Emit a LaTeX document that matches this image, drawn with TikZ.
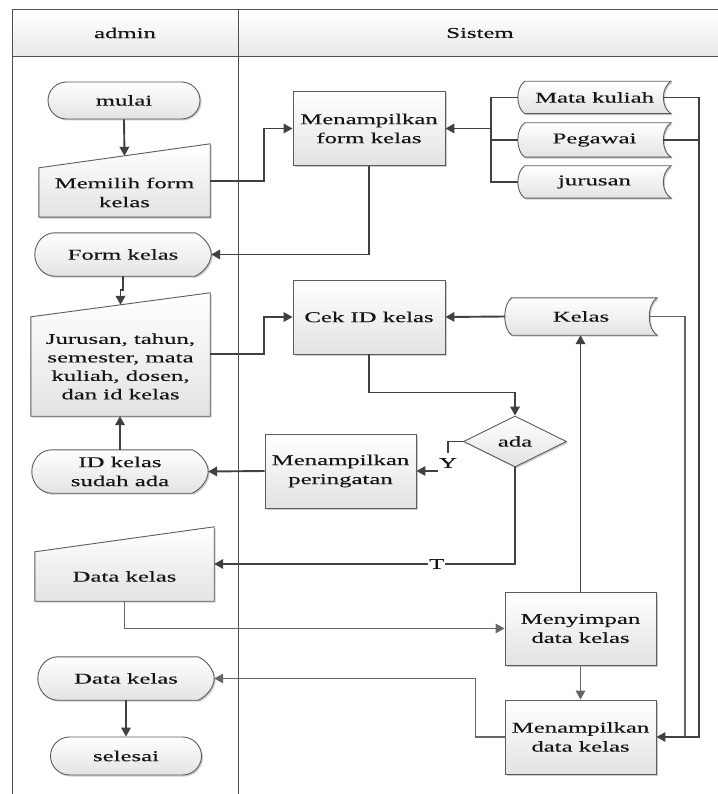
\documentclass[tikz,border=0pt]{standalone}
\usepackage{fontspec}
\setmainfont{Liberation Serif}[FakeStretch=1.65, FakeBold=0.2]
\usetikzlibrary{arrows.meta,calc,shapes.misc,shapes.geometric,shadows,backgrounds}

\definecolor{edge}{HTML}{5C5C5C}
\definecolor{wire}{HTML}{404040}
\definecolor{wirelt}{HTML}{666666}
\definecolor{fillbot}{HTML}{E3E3E3}
\definecolor{ink}{HTML}{151515}
\definecolor{lane}{HTML}{4F4F4F}

\tikzset{
  txt/.style={align=center, text=ink, font=\fontsize{15}{19}\selectfont, inner sep=0pt},
  shapefill/.style={draw=edge, line width=0.9pt, top color=white, bottom color=fillbot,
    drop shadow={shadow xshift=1.5pt, shadow yshift=-1.5pt, opacity=0.2, fill=black}},
  procbox/.style={txt, shapefill, rectangle, minimum width=152pt, minimum height=74pt},
  termbox/.style={txt, shapefill, rounded rectangle, minimum width=152pt, minimum height=37pt},
  wirearrow/.style={draw=wire, line width=1.9pt, -{Triangle[length=9pt,width=9.5pt]}},
  wireline/.style={draw=wire, line width=1.9pt},
  softarrow/.style={draw=wirelt, line width=1.5pt, -{Triangle[length=9pt,width=9.5pt]}},
  softline/.style={draw=wirelt, line width=1.6pt},
  lbl/.style={txt, fill=white, inner xsep=1pt}
}

% manual input: lower rectangle of the node plus a slanted top edge
\newcommand\manualin[2]{%
  \draw[shapefill] (#1.south west) -- (#1.north west) -- ($(#1.north east)+(0,-#2)$)
    -- (#1.south east) -- cycle;}

% display: rounded left side, pointed right side
\newcommand\dispshape[1]{%
  \draw[shapefill] ($(#1.north west)+(20,0)$) -- ($(#1.north east)+(-16,0)$)
    .. controls ($(#1.north east)+(-7,4)$) and ($(#1.east)+(0,-8)$) .. (#1.east)
    .. controls ($(#1.east)+(0,8)$) and ($(#1.south east)+(-7,-4)$) .. ($(#1.south east)+(-16,0)$)
    -- ($(#1.south west)+(20,0)$)
    .. controls ($(#1.south west)+(9,0)$) and ($(#1.west)+(0,12)$) .. (#1.west)
    .. controls ($(#1.west)+(0,-12)$) and ($(#1.north west)+(9,0)$) .. cycle;}

% stored data: convex left side, concave right side
\newcommand\storeshape[1]{%
  \draw[shapefill] ($(#1.north west)+(7,0)$) -- (#1.north east)
    .. controls ($(#1.north east)+(-10.5,6)$) and ($(#1.south east)+(-10.5,-6)$) .. (#1.south east)
    -- ($(#1.south west)+(7,0)$)
    .. controls ($(#1.south west)+(-2.3,-6)$) and ($(#1.north west)+(-2.3,6)$) .. cycle;}

\begin{document}
\begin{tikzpicture}[x=1pt, y=-1pt]
\useasboundingbox (0,0) rectangle (717,794);

% lane headers
\node[txt] (hadmin) at (125,33) {admin};
\node[txt] (hsistem) at (480,33) {Sistem};

% admin lane
\node[termbox] (mulai) at (124,100.5) {mulai};
\node[txt, minimum width=171pt, minimum height=49pt] (memilih) at (124.5,192.5) {Memilih form\\kelas};
\node[txt, minimum width=176pt, minimum height=43pt] (formkelas) at (123,254.5) {Form kelas};
\node[txt, font=\fontsize{15}{18.5}\selectfont, minimum width=179pt, minimum height=99pt] (jurusan) at (120.5,366.5)
  {Jurusan, tahun,\\semester, mata\\kuliah, dosen,\\dan id kelas};
\node[txt, minimum width=176pt, minimum height=43pt] (idada) at (120,471.5) {ID kelas\\sudah ada};
\node[txt, minimum width=179pt, minimum height=49pt] (datain) at (124.5,576.5) {Data kelas};
\node[txt, minimum width=176pt, minimum height=43pt] (dataout) at (126,678.5) {Data kelas};
\node[termbox, minimum width=151pt, minimum height=38pt] (selesai) at (126,756) {selesai};

% system lane
\node[procbox] (formk) at (369,128.5) {Menampilkan\\form kelas};
\node[procbox] (cek) at (369,317) {Cek ID kelas};
\node[procbox, minimum width=151pt] (warn) at (340.5,471) {Menampilkan\\peringatan};
\node[procbox, minimum width=151pt, minimum height=73pt] (simpan) at (580.5,628.5) {Menyimpan\\data kelas};
\node[procbox, minimum width=151pt] (tampil) at (580.5,737) {Menampilkan\\data kelas};
\node[txt, shapefill, diamond, minimum width=103pt, minimum height=51pt] (ada) at (515,441.5) {ada};

\node[txt, minimum width=153pt, minimum height=32pt] (mk) at (594.5,97.5) {Mata kuliah};
\node[txt, minimum width=153pt, minimum height=34pt] (peg) at (594.5,140) {Pegawai};
\node[txt, minimum width=153pt, minimum height=32pt] (jur) at (594.5,182) {jurusan};
\node[txt, minimum width=152pt, minimum height=37pt] (kelas) at (581,316.5) {Kelas};

\begin{pgfonlayer}{background}
  % swimlane frame
  \shade[top color=white, bottom color=black!9] (12,10) rectangle (717.5,57);
  \draw[lane, line width=1pt] (717.5,10) -- (12,10) -- (12,794.5);
  \draw[lane, line width=1pt] (12,57) -- (717.5,57);
  \draw[lane, line width=1pt] (238,10) -- (238,794.5);
  % symbol outlines
  \manualin{memilih}{24}
  \manualin{jurusan}{24}
  \manualin{datain}{25}
  \dispshape{formkelas}
  \dispshape{idada}
  \dispshape{dataout}
  \storeshape{mk}
  \storeshape{peg}
  \storeshape{jur}
  \storeshape{kelas}
\end{pgfonlayer}

% flow
\draw[wirearrow] (mulai.south) -- ($(memilih.north)+(0,-12)$);
\draw[wirearrow] ($(memilih.east)+(0,-11.5)$) -- ++(54,0) |- (formk.west);
\draw[wirearrow] (formk.south) |- (formkelas.east);

\coordinate (busx) at ($(mk.west)+(-27,0)$);
\draw[wireline] (mk.west) -- (busx) -- (busx |- jur.west) -- (jur.west);
\draw[wireline] (peg.west) -- (busx |- peg.west);
\draw[wirearrow] (busx |- formk.east) -- (formk.east);

\draw[wirearrow] (formkelas.south) -- ++(0,14) -| ($(jurusan.north)+(0,-12)$);
\draw[wirearrow] ($(jurusan.east)+(0,-12.5)$) -- ++(54,0) |- (cek.west);
\draw[wirearrow] (kelas.west) -- (cek.east);
\draw[wirearrow] (cek.south) -- ++(0,38) -| (ada.north);
\draw[wirearrow] (ada.west) -- ++(-15,0) |- (warn.east)
  node[pos=0.5, lbl, inner ysep=5pt, yshift=8pt] {Y};
\draw[wirearrow] (warn.west) -- (idada.east);
\draw[wirearrow] (idada.north) -- (idada.north |- jurusan.south);
\draw[wirearrow] (ada.south) |- ($(datain.east)+(0,-12.5)$)
  node[pos=0.63, lbl, inner ysep=1pt] {T};
\draw[softarrow] (datain.south) |- (simpan.west);
\draw[wirearrow] (simpan.north) -- (simpan.north |- kelas.south);
\draw[softarrow] (simpan.south) -- (tampil.north);
\draw[softarrow] (tampil.west) -- ++(-29,0) |- (dataout.east);
\draw[wirearrow] (dataout.south) -- (selesai.north);

\coordinate (rtop) at ($(mk.east)+(28,0)$);
\coordinate (rkel) at ($(kelas.east)+(28,0)$);
\draw[softline] ($(kelas.east)+(-8,0)$) -- (rkel) -- (rkel |- tampil.east);
\draw[wireline] ($(peg.east)+(-8,0)$) -- (rtop |- peg.east);
\draw[wirearrow] ($(mk.east)+(-8,0)$) -- (rtop) |- (tampil.east);
\end{tikzpicture}
\end{document}
